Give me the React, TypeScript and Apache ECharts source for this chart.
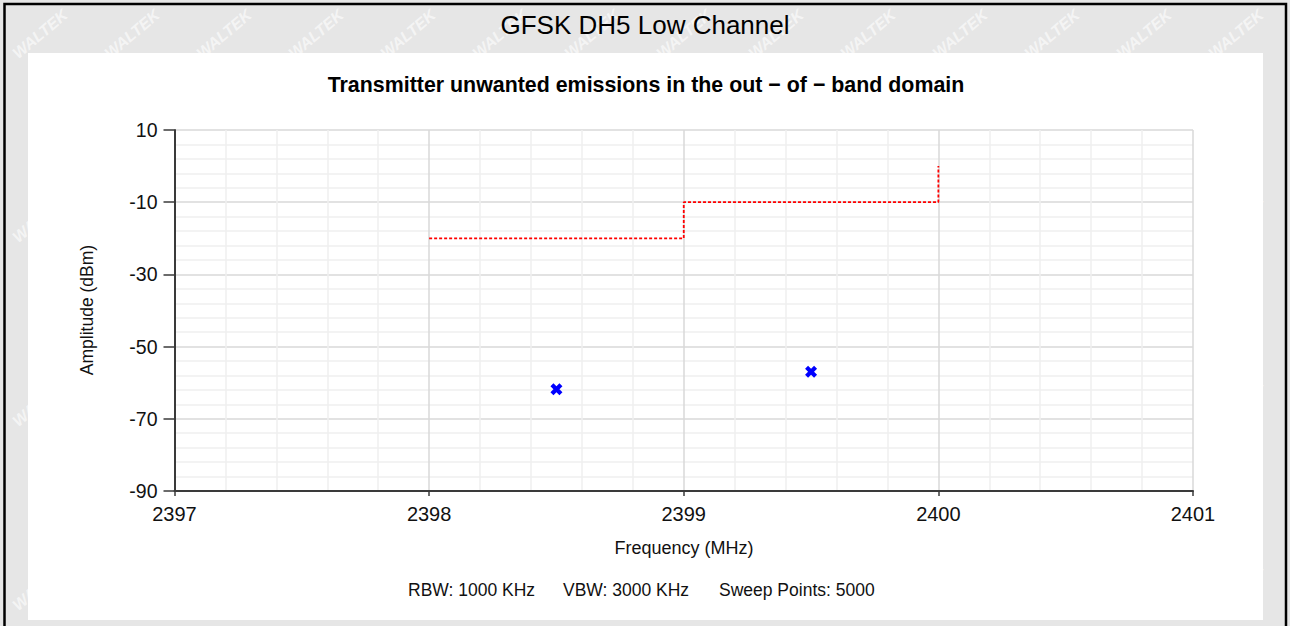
import React, { useEffect, useRef } from "react";
import * as echarts from "echarts";

// ---- data ----
const headerText = "GFSK DH5 Low Channel";
const chartTitle = "Transmitter unwanted emissions in the out \u2212 of \u2212 band domain";
const xAxisName = "Frequency (MHz)";
const yAxisName = "Amplitude (dBm)";
const infoTexts = ["RBW: 1000 KHz", "VBW: 3000 KHz", "Sweep Points: 5000"];

// limit line (step)
const limitFreq = [2398, 2399, 2399, 2400, 2400];
const limitLevel = [-20, -20, -10, -10, 0];

// measured emission peaks
const peakFreq = [2398.5, 2399.5];
const peakLevel = [-61.8, -57.0];

// axes
const xMin = 2397;
const xMax = 2401;
const xStep = 1;
const yMin = -90;
const yMax = 10;
const yStep = 20;

const FONT = "'Liberation Sans', Arial, sans-serif";

function measure(text: string, font: string): number {
  const c = document.createElement("canvas");
  const ctx = c.getContext("2d");
  if (!ctx) return 0;
  ctx.font = font;
  return ctx.measureText(text).width;
}

export default function App() {
  const ref = useRef<HTMLDivElement>(null);

  useEffect(() => {
    if (!ref.current) return;
    const chart = echarts.init(ref.current, undefined, { renderer: "svg" });

    const titleSize = 22;
    const titleW = measure(chartTitle, `bold ${titleSize}px 'Liberation Sans'`) || 700;
    const titleScale = 637 / titleW;

    // tiled watermark over the whole sheet (the white panel hides most of it)
    const wmPos: [number, number][] = [];
    for (let r = 0; r < 7; r++) {
      const y = 34 + r * 92;
      if (y > 592) break;
      for (let x = 40 + (r % 2) * 46; x <= 1250; x += 92) wmPos.push([x, y]);
    }
    const watermark: any[] = wmPos.map(([x, y]) => ({
      type: "text",
      z: -20,
      silent: true,
      x,
      y,
      rotation: (40 * Math.PI) / 180,
      style: {
        text: "WALTEK",
        fontSize: 16,
        fontWeight: "bold",
        fontStyle: "italic",
        fontFamily: FONT,
        fill: "rgba(255,255,255,0.6)",
        align: "center",
        verticalAlign: "middle",
      },
    }));

    const infoX = [408, 563, 719];

    const option: any = {
      animation: false,
      backgroundColor: "#e6e6e6",
      graphic: [
        ...watermark,
        {
          type: "rect",
          z: -10,
          shape: { x: 28, y: 53, width: 1235, height: 567 },
          style: { fill: "#ffffff" },
        },
        {
          type: "rect",
          z: 50,
          shape: { x: 4.5, y: 4, width: 1281.5, height: 700 },
          style: { fill: "none", stroke: "#000000", lineWidth: 2.5 },
        },
        {
          type: "text",
          z: 50,
          x: 645,
          y: 25,
          style: {
            text: headerText,
            fontSize: 26,
            fontFamily: FONT,
            fill: "#000",
            align: "center",
            verticalAlign: "middle",
          },
        },
        {
          type: "text",
          z: 50,
          x: 646,
          y: 84,
          scaleX: titleScale,
          style: {
            text: chartTitle,
            fontSize: titleSize,
            fontWeight: "bold",
            fontFamily: FONT,
            fill: "#000",
            align: "center",
            verticalAlign: "middle",
          },
        },
        {
          type: "text",
          z: 50,
          x: 684,
          y: 548,
          style: {
            text: xAxisName,
            fontSize: 18,
            fontFamily: FONT,
            fill: "#111",
            align: "center",
            verticalAlign: "middle",
          },
        },
        {
          type: "text",
          z: 50,
          x: 87,
          y: 310,
          rotation: Math.PI / 2,
          style: {
            text: yAxisName,
            fontSize: 17.5,
            fontFamily: FONT,
            fill: "#111",
            align: "center",
            verticalAlign: "middle",
          },
        },
        ...infoTexts.map((t, i) => ({
          type: "text",
          z: 50,
          x: infoX[i],
          y: 590,
          style: {
            text: t,
            fontSize: 17.5,
            fontFamily: FONT,
            fill: "#111",
            align: "left",
            verticalAlign: "middle",
          },
        })),
      ],
      grid: { left: 174.5, right: 97, top: 130, bottom: 135, containLabel: false },
      xAxis: {
        type: "value",
        min: xMin,
        max: xMax,
        interval: xStep,
        axisLine: { show: true, onZero: false, lineStyle: { color: "#3a3a3a", width: 2 } },
        axisTick: { show: true, length: 5, lineStyle: { color: "#3a3a3a", width: 1.5 } },
        axisLabel: {
          fontSize: 20,
          fontFamily: FONT,
          color: "#111",
          margin: 13,
          formatter: (v: number) => String(Math.round(v)),
        },
        splitLine: { show: true, lineStyle: { color: "#d9d9d9", width: 1.5 } },
        minorTick: { show: false, splitNumber: 5 },
        minorSplitLine: { show: true, lineStyle: { color: "#efefef", width: 1.5 } },
      },
      yAxis: {
        type: "value",
        min: yMin,
        max: yMax,
        interval: yStep,
        axisLine: { show: true, onZero: false, lineStyle: { color: "#3a3a3a", width: 2 } },
        axisTick: { show: true, length: 11, lineStyle: { color: "#3a3a3a", width: 1.5 } },
        axisLabel: {
          fontSize: 19.5,
          fontFamily: FONT,
          color: "#111",
          margin: 17,
          formatter: (v: number) => String(Math.round(v)),
        },
        splitLine: { show: true, lineStyle: { color: "#d9d9d9", width: 1.5 } },
        minorTick: { show: false, splitNumber: 5 },
        minorSplitLine: { show: true, lineStyle: { color: "#efefef", width: 1.5 } },
      },
      series: [
        {
          type: "line",
          name: "Limit",
          data: limitFreq.map((f, i) => [f, limitLevel[i]]),
          showSymbol: false,
          symbol: "none",
          lineStyle: { color: "#ff0000", width: 1.8, type: [3, 2] },
          z: 3,
        },
        {
          type: "scatter",
          name: "Peak",
          data: peakFreq.map((f, i) => [f, peakLevel[i]]),
          symbol:
            "path://M0,2.5 L2.5,0 L5,2.5 L7.5,0 L10,2.5 L7.5,5 L10,7.5 L7.5,10 L5,7.5 L2.5,10 L0,7.5 L2.5,5 Z",
          symbolSize: 12,
          itemStyle: { color: "#0000ff", opacity: 1 },
          z: 4,
        },
      ],
    };

    chart.setOption(option);
    return () => chart.dispose();
  }, []);

  return (
    <div
      ref={ref}
      style={{ position: "absolute", left: 0, top: 0, width: 1290, height: 626 }}
    />
  );
}
